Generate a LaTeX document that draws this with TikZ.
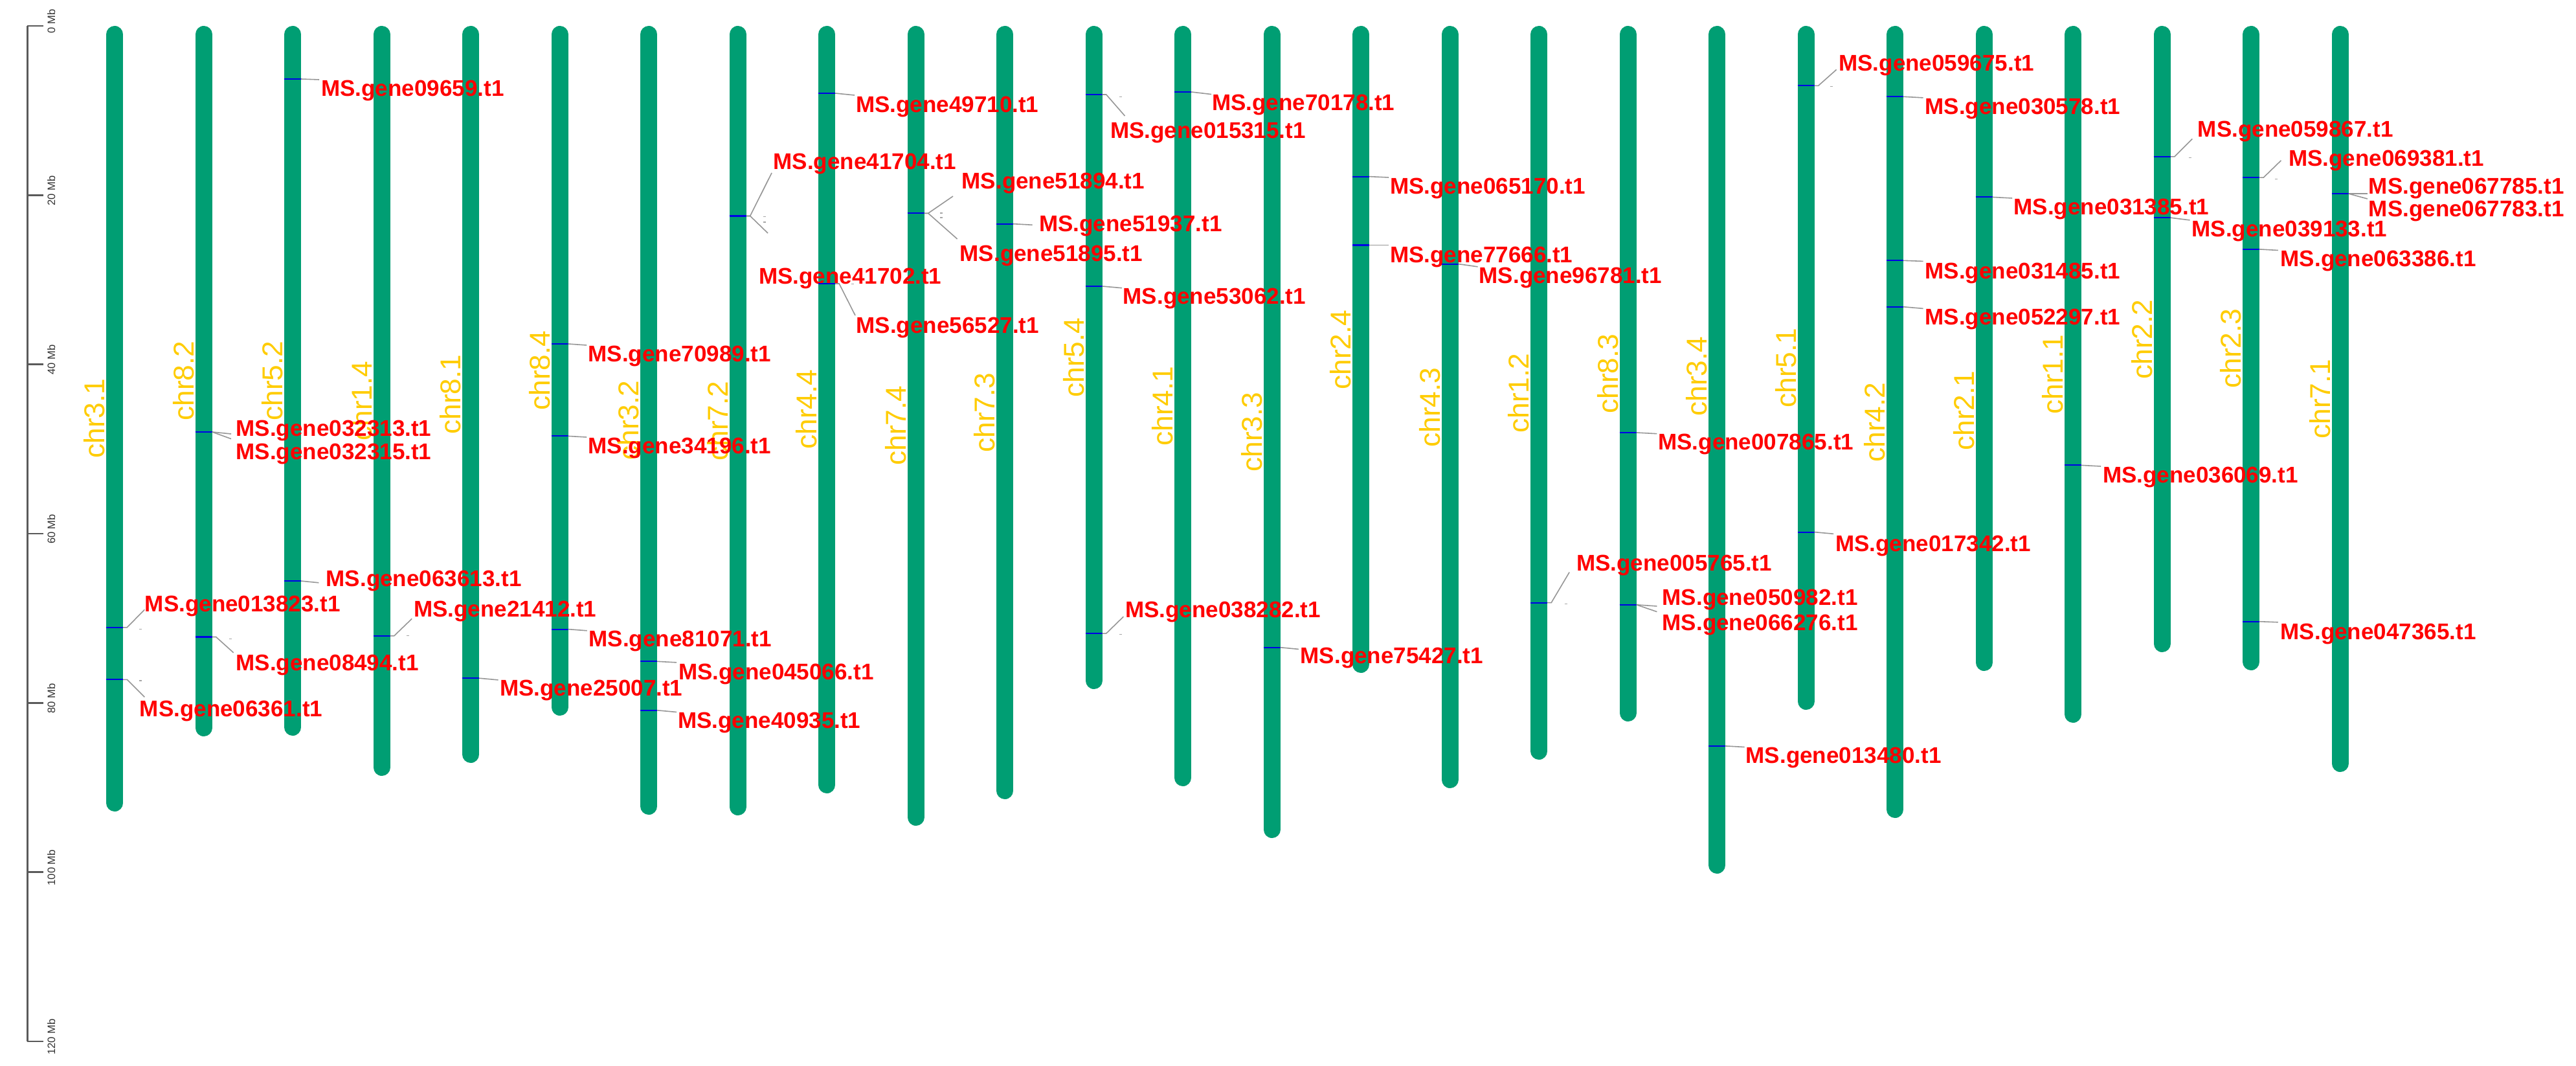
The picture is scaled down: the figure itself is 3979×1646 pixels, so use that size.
\documentclass[tikz,border=0pt]{standalone}
\usepackage{fontspec}
\setmainfont{Liberation Sans}
\definecolor{chrgreen}{RGB}{0,158,115}
\definecolor{chrgold}{RGB}{255,204,0}
\definecolor{genered}{RGB}{255,0,0}
\definecolor{mkblue}{RGB}{0,0,230}
\definecolor{conngray}{RGB}{150,150,150}
\definecolor{axisgray}{RGB}{90,90,90}
\newcommand{\genestraight}[9]{%
  \draw[genemark] (#2-13,#3) -- (#2+13,#3);
  \coordinate (m#1) at (#2+13,#3);
  \coordinate (e#1) at (#4,#5);
  \draw[connline] (m#1) -- (e#1);
  \node[glab,anchor=#6] (g#1) at (#7,#8) {#9};}
\newcommand{\geneelbow}[9]{%
  \draw[genemark] (#2-13,#3) -- (#2+13,#3);
  \coordinate (m#1) at (#2+13,#3);
  \coordinate (e#1) at (#4,#5);
  \draw[connline] (m#1) -- ++(6,0) -- (e#1);
  \node[glab,anchor=#6] (g#1) at (#7,#8) {#9};}
\begin{document}
\begin{tikzpicture}[x=0.01cm,y=-0.01cm,
  chrbar/.style={line width=0.26cm, line cap=round, draw=chrgreen},
  chrlab/.style={rotate=90, anchor=south, inner sep=0pt, text=chrgold, font=\fontsize{12.6}{14}\selectfont},
  genemark/.style={draw=mkblue, line width=0.6pt},
  connline/.style={draw=conngray, line width=0.45pt},
  glab/.style={inner sep=0pt, text=genered, font=\bfseries\fontsize{9.96}{12}\selectfont},
  axisline/.style={draw=axisgray, line width=0.7pt},
  ticklab/.style={rotate=90, anchor=south, inner sep=0pt, text=black!80, font=\fontsize{4.7}{5.5}\selectfont},
  speck/.style={draw=gray!70, line width=0.3pt}]
\useasboundingbox (0,0) rectangle (3979,1646);
\fill[white] (0,0) rectangle (3979,1646);

% scale axis
\draw[axisline] (42.4,40) -- (42.4,1608);
\foreach \v in {0,20,...,120} {
  \draw[axisline] (42.4,{40+13.067*\v}) -- (67,{40+13.067*\v});
  \node[ticklab] (tick\v) at (86,{33+13.067*\v}) {\v\ Mb};
}

% chromosomes: index/name/x/end/label centre
\foreach \i/\n/\x/\e/\m in {0/chr3.1/177.2/1253/646, 1/chr8.2/314.7/1137/588, 2/chr5.2/452.2/1136/588,
  3/chr1.4/589.7/1198/619, 4/chr8.1/727.2/1178/609, 5/chr8.4/864.7/1105/572, 6/chr3.2/1002.2/1258/649,
  7/chr7.2/1139.7/1259/650, 8/chr4.4/1277.2/1225/632, 9/chr7.4/1414.7/1275/657, 10/chr7.3/1552.2/1234/637,
  11/chr5.4/1689.7/1064/552, 12/chr4.1/1827.2/1214/627, 13/chr3.3/1964.7/1294/667, 14/chr2.4/2102.2/1039/540,
  15/chr4.3/2239.7/1217/629, 16/chr1.2/2377.2/1173/607, 17/chr8.3/2514.7/1114/577, 18/chr3.4/2652.2/1349/581,
  19/chr5.1/2789.7/1096/568, 20/chr4.2/2927.2/1263/652, 21/chr2.1/3064.7/1036/634, 22/chr1.1/3202.2/1116/578,
  23/chr2.2/3339.7/1007/524, 24/chr2.3/3477.2/1035/538, 25/chr7.1/3614.7/1192/616} {
  \coordinate (chr\i) at (\x,40);
  \draw[chrbar] (\x,53) -- (\x,\e-13);
  \node[chrlab] (chrlab\i) at (\x-14.5,\m) {\n};
}

% small specks
\foreach \sx/\sy in {217.4/971.6, 217.4/1051, 355.8/986.2, 629.5/981.9, 1181.3/334.6,
  1181.3/343, 1454/329, 1454/336, 1730.8/149.3, 1730.8/979.7, 2418.8/932.2,
  2828.6/133.4, 3382.5/243.5, 3516.4/276.3, 1317.4/438.3}
  \draw[speck] (\sx-2,\sy) -- (\sx+2,\sy);

% genes
\genestraight{a1}{452.2}{122}{493}{123}{north west}{495.5}{123}{MS.gene09659.t1}
\genestraight{a2}{314.7}{667}{357}{670}{base west}{364}{673.4}{MS.gene032313.t1}
\genestraight{a3}{314.7}{667}{357}{677.6}{north west}{364}{684}{MS.gene032315.t1}
\genestraight{a4}{864.7}{531}{906}{533}{north west}{908}{533}{MS.gene70989.t1}
\genestraight{a5}{864.7}{673.4}{906}{675}{north west}{908}{675}{MS.gene34196.t1}
\geneelbow{a6}{1139.7}{333.5}{1192}{267}{base west}{1194}{262}{MS.gene41704.t1}
\geneelbow{a7}{1139.7}{333.5}{1186}{360}{north west}{1171.4}{413}{MS.gene41702.t1}
\genestraight{a8}{1277.2}{144}{1320}{147}{north west}{1321.4}{148}{MS.gene49710.t1}
\geneelbow{a9}{1277.2}{438}{1321}{487}{north west}{1322}{489.7}{MS.gene56527.t1}
\geneelbow{a10}{1414.7}{329.3}{1472}{303}{base west}{1485}{292}{MS.gene51894.t1}
\geneelbow{a11}{1414.7}{329.3}{1478.6}{369}{north west}{1482}{378.5}{MS.gene51895.t1}
\genestraight{a12}{1552.2}{345.7}{1594.6}{347.3}{base west}{1604.5}{357.3}{MS.gene51937.t1}
\geneelbow{a13}{1689.7}{146}{1737.5}{179}{north west}{1714.3}{188}{MS.gene015315.t1}
\genestraight{a14}{1689.7}{442}{1733}{444.7}{north west}{1734}{444.7}{MS.gene53062.t1}
\genestraight{a15}{1827.2}{142}{1871}{145.6}{north west}{1871.4}{145.6}{MS.gene70178.t1}
\genestraight{a16}{2102.2}{272.6}{2145}{274}{north west}{2146.4}{274}{MS.gene065170.t1}
\genestraight{a17}{2102.2}{378.5}{2145}{378.5}{north west}{2146.4}{380}{MS.gene77666.t1}
\genestraight{a18}{2239.7}{407.6}{2282.6}{411.9}{north west}{2284}{411.9}{MS.gene96781.t1}
\genestraight{a19}{2514.7}{668}{2559.4}{669.7}{north west}{2560.7}{669.7}{MS.gene007865.t1}
\geneelbow{a20}{2789.7}{132.3}{2836.6}{107.5}{base west}{2839.7}{110}{MS.gene059675.t1}
\genestraight{a21}{2927.2}{149.3}{2970.5}{150.9}{north west}{2972.8}{150.9}{MS.gene030578.t1}
\genestraight{a22}{2927.2}{402.3}{2970.5}{403.4}{north west}{2972.8}{405}{MS.gene031485.t1}
\genestraight{a23}{2927.2}{473.8}{2970.5}{476.4}{north west}{2972.8}{476.4}{MS.gene052297.t1}
\genestraight{a24}{3064.7}{304.4}{3108}{306}{north west}{3109.8}{306}{MS.gene031385.t1}
\genestraight{a25}{3202.2}{718.4}{3245}{720}{north west}{3247.3}{720}{MS.gene036069.t1}
\genestraight{a26}{2789.7}{821.6}{2832}{824.3}{north west}{2834.4}{826}{MS.gene017342.t1}
\geneelbow{a27}{3339.7}{241.9}{3386.2}{214.4}{base west}{3394.1}{211.8}{MS.gene059867.t1}
\genestraight{a28}{3339.7}{336.2}{3382.5}{339.9}{north west}{3384.8}{339.9}{MS.gene039133.t1}
\geneelbow{a29}{3477.2}{274.2}{3523.4}{247.8}{base west}{3534.5}{256.8}{MS.gene069381.t1}
\genestraight{a30}{3477.2}{384.9}{3518.7}{386.5}{north west}{3522}{386.5}{MS.gene063386.t1}
\genestraight{a31}{3614.7}{299.1}{3656.8}{299.1}{base west}{3658.2}{299.1}{MS.gene067785.t1}
\genestraight{a32}{3614.7}{299.1}{3656.8}{307}{north west}{3658.2}{309.7}{MS.gene067783.t1}
\genestraight{a33}{3477.2}{959.7}{3518.7}{960.8}{north west}{3522}{961.9}{MS.gene047365.t1}
\geneelbow{a34}{177.2}{968.9}{223.2}{941.4}{base west}{223.2}{944.6}{MS.gene013823.t1}
\geneelbow{a35}{177.2}{1049.3}{223.2}{1076.3}{north west}{215.2}{1081.7}{MS.gene06361.t1}
\geneelbow{a36}{314.7}{983.5}{360.7}{1007.8}{north west}{363.8}{1010.5}{MS.gene08494.t1}
\genestraight{a37}{452.2}{897.1}{492.4}{899.8}{base west}{503.1}{905.2}{MS.gene063613.t1}
\geneelbow{a38}{589.7}{981.9}{636.2}{955.4}{base west}{638.4}{952.7}{MS.gene21412.t1}
\genestraight{a39}{727.2}{1047.2}{769.6}{1049.9}{north west}{771.4}{1049.3}{MS.gene25007.t1}
\genestraight{a40}{864.7}{971.6}{906.7}{973.8}{north west}{908.9}{973.8}{MS.gene81071.t1}
\genestraight{a41}{1002.2}{1021.3}{1045}{1022.9}{north west}{1047.3}{1024}{MS.gene045066.t1}
\genestraight{a42}{1002.2}{1096.8}{1045}{1099.5}{north west}{1046.4}{1099.5}{MS.gene40935.t1}
\geneelbow{a43}{1689.7}{978.1}{1735.3}{952.2}{base west}{1737.5}{953.8}{MS.gene038282.t1}
\genestraight{a44}{1964.7}{999.7}{2005.8}{1002.4}{north west}{2008}{999.7}{MS.gene75427.t1}
\geneelbow{a45}{2377.2}{930.6}{2424.1}{883.6}{base west}{2434.4}{881}{MS.gene005765.t1}
\genestraight{a46}{2514.7}{933.8}{2559.4}{936}{base west}{2567}{934.9}{MS.gene050982.t1}
\genestraight{a47}{2514.7}{933.8}{2559.4}{944.6}{north west}{2567}{948.4}{MS.gene066276.t1}
\genestraight{a48}{2652.2}{1151.9}{2694.6}{1153.5}{north west}{2696}{1153.5}{MS.gene013480.t1}
\end{tikzpicture}
\end{document}
